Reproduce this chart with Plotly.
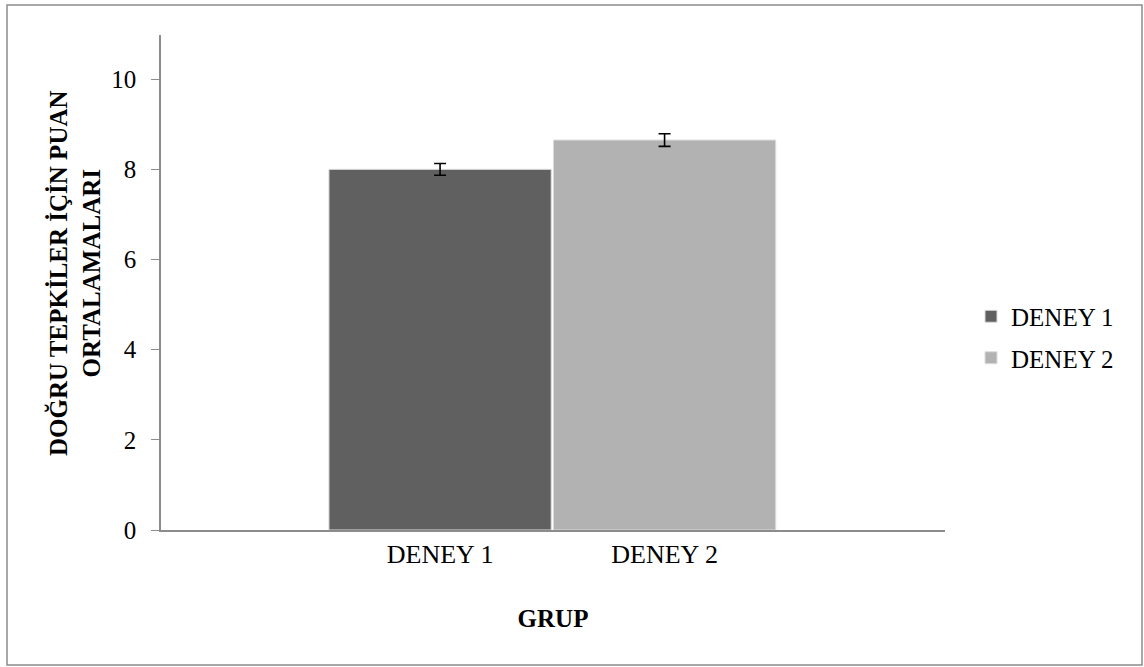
import plotly.graph_objects as go

categories = ["DENEY 1", "DENEY 2"]
means = [8.0, 8.65]
errors = [0.13, 0.14]
colors = ["#606060", "#b2b2b2"]
y_title = "DOĞRU TEPKİLER İÇİN PUAN<br>ORTALAMALARI"
x_title = "GRUP"

FONT = "Liberation Serif, Times New Roman, serif"

fig = go.Figure()
for i, (cat, m, e, c) in enumerate(zip(categories, means, errors, colors)):
    fig.add_trace(go.Bar(
        x=[cat], y=[m], name=cat, width=0.99,
        marker=dict(color=c, line=dict(color="#dcdcdc", width=1)),
        error_y=dict(type="data", array=[e], visible=True, color="black",
                     thickness=1.6, width=6),
        legendgroup=f"g{i}",
    ))

W, H = 1144, 667
L, R, T, B = 161, 199, 35, 137
pw, ph = W - L - R, H - T - B

def px2paper(x, y):
    return (x - L) / pw, (H - B - y) / ph

x0, y0 = px2paper(7, 5)
x1, y1 = px2paper(1142, 665)
tx, ty = px2paper(74, 273)
lx, ly = px2paper(971, 337)

fig.update_layout(
    width=W, height=H,
    margin=dict(l=L, r=R, t=T, b=B),
    paper_bgcolor="white", plot_bgcolor="white",
    barmode="overlay",
    font=dict(family=FONT, size=25, color="black"),
    showlegend=True,
    legend=dict(x=lx, y=ly, xanchor="left", yanchor="middle",
                font=dict(size=25), tracegroupgap=6,
                traceorder="grouped", itemwidth=30),
    xaxis=dict(range=[-1.243, 2.249], showline=True, linecolor="#8c8c8c",
               linewidth=1.5, ticks="", showgrid=False, zeroline=False,
               tickfont=dict(size=26),
               title=dict(text=f"<b>{x_title}</b>", font=dict(size=25), standoff=42)),
    yaxis=dict(range=[0, 10.98], tickvals=[0, 2, 4, 6, 8, 10], showline=True,
               linecolor="#8c8c8c", linewidth=1.5, ticks="outside", ticklen=8,
               tickcolor="#8c8c8c", showgrid=False, zeroline=False,
               tickfont=dict(size=25), ticklabelstandoff=10),
    annotations=[dict(text=f"<b>{y_title}</b>", xref="paper", yref="paper",
                      x=tx, y=ty, xanchor="center", yanchor="middle",
                      textangle=-90, showarrow=False, font=dict(size=25))],
    shapes=[dict(type="rect", xref="paper", yref="paper", x0=x0, x1=x1, y0=y0, y1=y1,
                 line=dict(color="#8c8c8c", width=1.5), layer="below")],
)

fig.write_html("out.html", config={"displayModeBar": False})

with open("out.html", "r", encoding="utf-8") as f:
    html = f.read()
html = html.replace("<head>", "<head><style>html,body{margin:0;padding:0;overflow:hidden;}</style>", 1)
with open("out.html", "w", encoding="utf-8") as f:
    f.write(html)
